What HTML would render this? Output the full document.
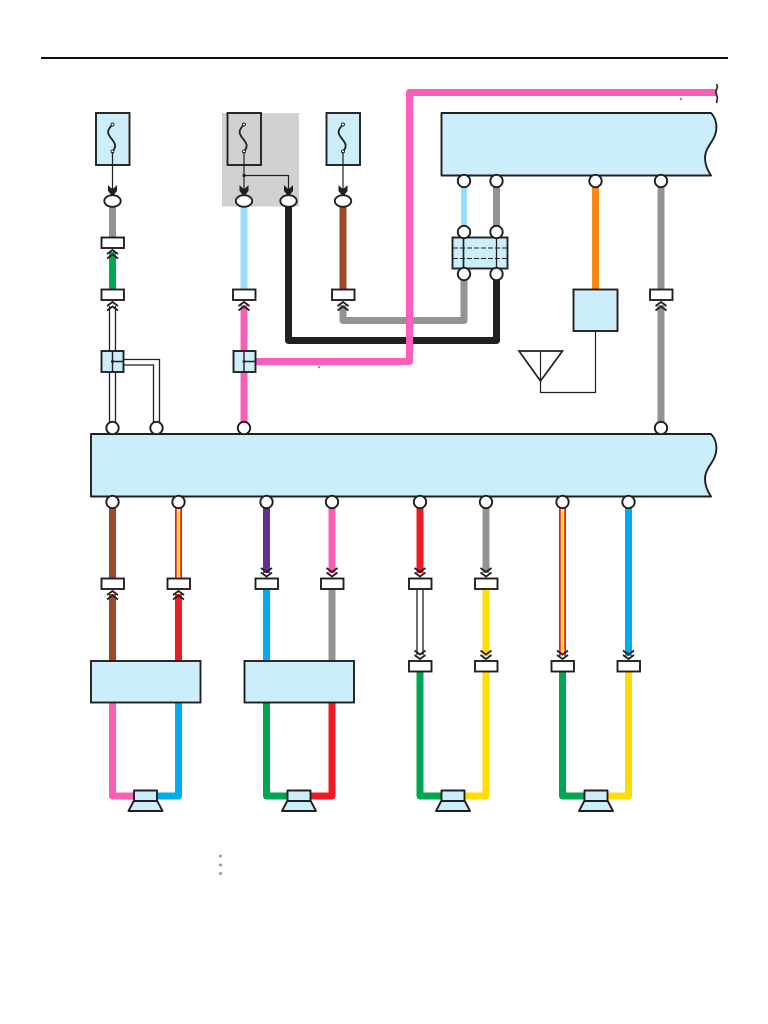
<!DOCTYPE html>
<html><head><meta charset="utf-8"><title>Wiring diagram</title>
<style>html,body{margin:0;padding:0;background:#fff}svg{display:block}</style></head>
<body>
<svg width="768" height="1024" viewBox="0 0 768 1024" xmlns="http://www.w3.org/2000/svg">
<defs>
<g id="up" fill="none"><path d="M-5.500 5L0 1L5.500 5M-5.500 9.500L0 5.500L5.500 9.500" stroke="#231f20" stroke-width="1.800"/></g>
<g id="dn" fill="none"><path d="M-5.500 -5L0 -1L5.500 -5M-5.500 -9.500L0 -5.500L5.500 -9.500" stroke="#231f20" stroke-width="1.800"/></g>
<rect id="conn" x="-11" y="0" width="22.500" height="10.500" fill="#fff" stroke="#231f20" stroke-width="1.900"/>
<circle id="pin" r="6.200" fill="#fff" stroke="#231f20" stroke-width="1.900"/>
<ellipse id="oval" rx="8.200" ry="5.800" fill="#fff" stroke="#231f20" stroke-width="1.900"/>
<g id="spk" stroke="#231f20" stroke-width="1.900" fill="#cceefb" stroke-linejoin="round"><path d="M-11.500 800.500H11.500L17 811H-17Z"/><rect x="-11.500" y="790.500" width="23" height="10.500"/></g>
<g id="fuse"><path d="M0 -14C-6 -8 -5 -5 -2 -1C2 4 5 7 0 13" fill="none" stroke="#231f20" stroke-width="1.800"/><circle cy="-14" r="1.500" fill="#fff" stroke="#231f20" stroke-width=".9"/><circle cy="13" r="1.500" fill="#fff" stroke="#231f20" stroke-width=".9"/></g>
<path id="tip" d="M-4.500 -7L-2 -4.500L0 -3L2 -4.500L4.500 -7V-1L0 4.500L-4.500 -1Z" fill="#231f20"/>
</defs>

<rect width="768" height="1024" fill="#fff"/>
<path d="M41 58H728" stroke="#111" stroke-width="2"/>
<rect x="222" y="113" width="77" height="93.500" fill="#d1d1d1"/>

<!-- colored wires, upper -->
<g fill="none" stroke-linejoin="round" stroke-linecap="butt" stroke-width="7">
<path d="M112.500 206V238" stroke="#939393"/>
<path d="M112.500 252V289" stroke="#00a651"/>
<path d="M244 206V289" stroke="#99dcfb"/>
<path d="M343 206V289" stroke="#a0492a"/>
<path d="M343 305V320.500H464V279" stroke="#939393"/>
<path d="M288.500 206V340.500H496.500V279" stroke="#231f20"/>
<path d="M244 305V423" stroke="#f860b8"/>
<path d="M255 361.500H409.500V92.500H716" stroke="#f860b8"/>
<path d="M464 187V227" stroke="#99dcfb" stroke-width="6"/>
<path d="M496.500 187V227" stroke="#939393"/>
<path d="M595.500 187V289" stroke="#f7891b"/>
<path d="M661 187V289M661 305V423" stroke="#939393"/>
</g>
<!-- white wires -->
<g fill="none" stroke="#231f20" stroke-width="1.300">
<path d="M109.500 306V423M115.500 306V423"/>
<path d="M124 359.500H159.500V423M124 365H153.500V423"/>
</g>

<path d="M716.500 84C719 88 715 90 716 93C717 96 718 98 716.500 103" fill="none" stroke="#231f20" stroke-width="1.600"/>

<!-- fuses -->
<g fill="#cceefb" stroke="#231f20" stroke-width="1.900">
<rect x="96" y="113" width="33.500" height="52"/>
<rect x="227.500" y="113" width="33.500" height="52" fill="#d1d1d1"/>
<rect x="326.500" y="113" width="33.500" height="52"/>
</g>
<use href="#fuse" x="112.500" y="138.500"/><use href="#fuse" x="244" y="138.500"/><use href="#fuse" x="343" y="138.500"/>
<g stroke="#231f20" stroke-width="1.200" fill="none">
<path d="M112.500 152V190M244 152V190M343 152V190"/>
<path d="M244 175.500H288.500V190"/>
</g>
<circle cx="244" cy="175.500" r="1.600" fill="#231f20"/>
<use href="#tip" x="112.500" y="192"/><use href="#tip" x="244" y="192"/><use href="#tip" x="288.500" y="192"/><use href="#tip" x="343" y="192"/>
<use href="#oval" x="112.500" y="201"/><use href="#oval" x="244" y="201"/><use href="#oval" x="288.500" y="201"/><use href="#oval" x="343" y="201"/>

<!-- upper connectors -->
<use href="#conn" x="112.500" y="237.500"/><use href="#up" x="112.500" y="249"/>
<use href="#conn" x="112.500" y="289.500"/><use href="#up" x="112.500" y="301"/>
<use href="#conn" x="244" y="289.500"/><use href="#up" x="244" y="301"/>
<use href="#conn" x="343" y="289.500"/><use href="#up" x="343" y="301"/>
<use href="#conn" x="661" y="289.500"/><use href="#up" x="661" y="301"/>

<!-- splices -->
<g stroke="#231f20" stroke-width="1.900" fill="#cceefb">
<rect x="101.500" y="351" width="22" height="21"/>
<rect x="233.500" y="351" width="22" height="21"/>
</g>
<g stroke="#231f20" stroke-width="1.400" fill="none">
<path d="M112.500 351V372M112.500 361.500H123.500M244 351V372M244 361.500H255.500"/>
</g>
<circle cx="112.500" cy="361.500" r="1.500" fill="#231f20"/><circle cx="244" cy="361.500" r="1.500" fill="#231f20"/>

<!-- top right box -->
<path d="M441.500 113H711C716 118 718 127 715 135C713 142 705 148 705 158C705 165 708 171 711 175.500H441.500Z" fill="#cceefb" stroke="#231f20" stroke-width="1.900" stroke-linejoin="round"/>
<!-- junction -->
<rect x="452.500" y="237.500" width="55" height="31" fill="#cceefb" stroke="#231f20" stroke-width="1.900"/>
<path d="M463.500 237.500V268.500" stroke="#231f20" stroke-width="1.700"/>
<path d="M496.500 237.500V268.500" stroke="#231f20" stroke-width="1.300"/>
<path d="M453 248H507M453 258.500H507" stroke="#231f20" stroke-width="1.100" stroke-dasharray="5 2"/>
<use href="#pin" x="464" y="181"/><use href="#pin" x="496.500" y="181"/><use href="#pin" x="595.500" y="181"/><use href="#pin" x="661" y="181"/>
<use href="#pin" x="464" y="232"/><use href="#pin" x="496.500" y="232"/><use href="#pin" x="464" y="274"/><use href="#pin" x="496.500" y="274"/>

<!-- amp & antenna -->
<rect x="573.500" y="289.500" width="44" height="41.500" fill="#cceefb" stroke="#231f20" stroke-width="1.900"/>
<path d="M519 351H562.500L540.500 381Z" fill="#fff" stroke="#231f20" stroke-width="1.700" stroke-linejoin="miter"/>
<path d="M540.500 351V392.500H595.500V331" fill="none" stroke="#231f20" stroke-width="1.200"/>

<!-- main box -->
<path d="M91 434H711C716 439 718 448 715 456C713 463 705 469 705 479C705 486 708 492 711 496.500H91Z" fill="#cceefb" stroke="#231f20" stroke-width="1.900" stroke-linejoin="round"/>
<use href="#pin" x="112.500" y="428"/><use href="#pin" x="156.500" y="428"/><use href="#pin" x="244" y="428"/><use href="#pin" x="661" y="428"/>

<!-- lower wires -->
<g fill="none" stroke-width="7" stroke-linejoin="round">
<path d="M112.500 507V578M112.500 594V661" stroke="#a0492a"/>
<path d="M178.500 594V661" stroke="#ed1c24"/>
<path d="M178.500 507V578" stroke="#ed1c24"/><path d="M178.500 507V578" stroke="#fff" stroke-width="3.400"/><path d="M178.500 507V578" stroke="#ffdd00" stroke-width="1.600"/>
<path d="M266.500 507V573" stroke="#662d91"/>
<path d="M266.500 589V661" stroke="#00aeef"/>
<path d="M332 507V573" stroke="#f860b8"/>
<path d="M332 589V661" stroke="#939393"/>
<path d="M420 507V573" stroke="#ed1c24"/>
<path d="M486 507V573" stroke="#939393"/>
<path d="M486 589V656" stroke="#ffdd00"/>
<path d="M562.500 507V656" stroke="#ed1c24"/><path d="M562.500 507V656" stroke="#fff" stroke-width="3.400"/><path d="M562.500 507V656" stroke="#ffdd00" stroke-width="1.600"/>
<path d="M628.500 507V656" stroke="#00aeef"/>
<path d="M112.500 702V796H135" stroke="#f860b8"/>
<path d="M178.500 702V796H155" stroke="#00aeef"/>
<path d="M266.500 702V796H289" stroke="#00a651"/>
<path d="M332 702V796H309" stroke="#ed1c24"/>
<path d="M420 672V796H443" stroke="#00a651"/>
<path d="M486 672V796H463" stroke="#ffdd00"/>
<path d="M562.500 672V796H586" stroke="#00a651"/>
<path d="M628.500 672V796H606" stroke="#ffdd00"/>
</g>
<path d="M417 589V655M423 589V655" fill="none" stroke="#231f20" stroke-width="1.300"/>

<!-- lower connectors -->
<use href="#conn" x="112.500" y="578.500"/><use href="#up" x="112.500" y="590"/>
<use href="#conn" x="178.500" y="578.500"/><use href="#up" x="178.500" y="590"/>
<use href="#conn" x="266.500" y="578.500"/><use href="#dn" x="266.500" y="577.500"/>
<use href="#conn" x="332" y="578.500"/><use href="#dn" x="332" y="577.500"/>
<use href="#conn" x="420" y="578.500"/><use href="#dn" x="420" y="577.500"/>
<use href="#conn" x="486" y="578.500"/><use href="#dn" x="486" y="577.500"/>
<use href="#conn" x="420" y="661"/><use href="#dn" x="420" y="660"/>
<use href="#conn" x="486" y="661"/><use href="#dn" x="486" y="660"/>
<use href="#conn" x="562.500" y="661"/><use href="#dn" x="562.500" y="660"/>
<use href="#conn" x="628.500" y="661"/><use href="#dn" x="628.500" y="660"/>

<use href="#pin" x="112.500" y="502"/><use href="#pin" x="178.500" y="502"/><use href="#pin" x="266.500" y="502"/><use href="#pin" x="332" y="502"/>
<use href="#pin" x="420" y="502"/><use href="#pin" x="486" y="502"/><use href="#pin" x="562.500" y="502"/><use href="#pin" x="628.500" y="502"/>

<!-- amp boxes -->
<rect x="91" y="661" width="109.500" height="41.500" fill="#cceefb" stroke="#231f20" stroke-width="1.900"/>
<rect x="244.500" y="661" width="109.500" height="41.500" fill="#cceefb" stroke="#231f20" stroke-width="1.900"/>

<!-- speakers -->
<use href="#spk" x="145.500"/><use href="#spk" x="299"/><use href="#spk" x="453"/><use href="#spk" x="596"/>

<!-- specks -->
<g fill="#999"><circle cx="681" cy="99" r="1.300"/><circle cx="319" cy="367" r="1.300"/><circle cx="220.500" cy="856" r="1.500"/><circle cx="220.500" cy="865" r="1.500"/><circle cx="220.500" cy="873.500" r="1.500"/></g>
</svg>
</body></html>
